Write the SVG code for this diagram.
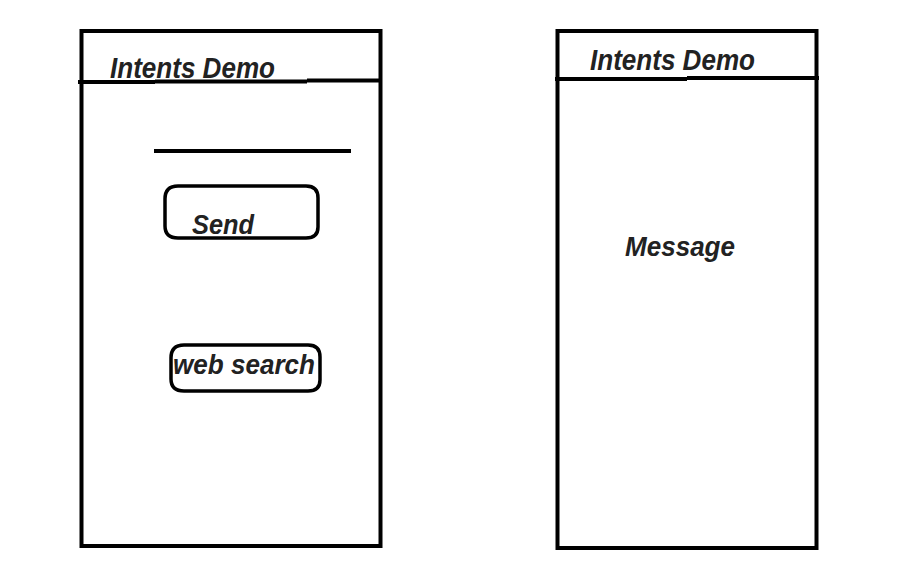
<svg xmlns="http://www.w3.org/2000/svg" width="919" height="563" viewBox="0 0 919 563">
  <style>
    .frame { fill: none; stroke: #000; stroke-width: 4; }
    .rule { fill: none; stroke: #000; stroke-width: 4; stroke-linecap: butt; }
    .btn { fill: none; stroke: #000; stroke-width: 3.5; }
    .lbl { font-family: "Liberation Sans", Arial, sans-serif; font-weight: bold; font-style: italic; fill: #222; }
  </style>
  <rect width="919" height="563" fill="#fff"/>

  <!-- first screen: form with input and two buttons -->
  <g id="screen-main">
    <rect class="frame" x="81.5" y="31" width="299" height="515"/>
    <path class="rule" d="M78 82 H155 M155 81.5 H307 M307 80.5 H380"/>
    <text class="lbl" x="110" y="78" font-size="30" textLength="165" lengthAdjust="spacingAndGlyphs">Intents Demo</text>
  </g>

  <g id="input-field">
    <line class="rule" x1="154" y1="151" x2="351" y2="151" stroke-width="3.5"/>
  </g>

  <g id="btn-send">
    <path class="btn" d="M178 186 H306 Q318 186 318 198 V227 Q318 238 306 238 H178 Q165 238 165 226 V199 Q165 186 178 186 Z"/>
    <text class="lbl" x="192" y="234" font-size="27" textLength="62" lengthAdjust="spacingAndGlyphs">Send</text>
  </g>

  <g id="btn-web-search">
    <path class="btn" d="M184 345 H308 Q320 345 320 357 V380 Q320 391 308 391 H184 Q171 391 171 379 V358 Q171 345 184 345 Z"/>
    <text class="lbl" x="173" y="374" font-size="28" textLength="142" lengthAdjust="spacingAndGlyphs">web search</text>
  </g>

  <!-- second screen: shows the received message -->
  <g id="screen-message">
    <rect class="frame" x="557.5" y="31" width="259" height="517"/>
    <path class="rule" d="M555 79 H687 M687 78 H819"/>
    <text class="lbl" x="590" y="70" font-size="30" textLength="165" lengthAdjust="spacingAndGlyphs">Intents Demo</text>
  </g>

  <g id="message-text">
    <text class="lbl" x="625" y="256" font-size="28" textLength="110" lengthAdjust="spacingAndGlyphs">Message</text>
  </g>

  <g id="connectors"></g>
</svg>
